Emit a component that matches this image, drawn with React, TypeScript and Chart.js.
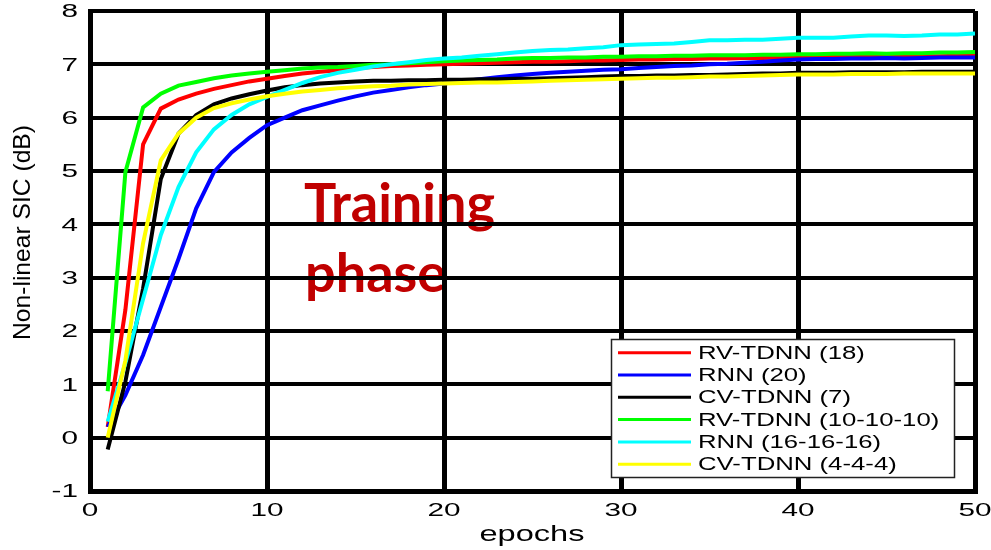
import React, { useEffect, useRef } from "react";
import { Chart, registerables } from "chart.js";
Chart.register(...registerables);

const epochs = [1,2,3,4,5,6,7,8,9,10,11,12,13,14,15,16,17,18,19,20,21,22,23,24,25,26,27,28,29,30,31,32,33,34,35,36,37,38,39,40,41,42,43,44,45,46,47,48,49,50];

const rvTdnn18 = [0.2,2.4,5.5,6.17,6.34,6.45,6.54,6.61,6.68,6.73,6.78,6.83,6.86,6.89,6.93,6.95,6.97,6.98,6.99,7.0,7.01,7.02,7.03,7.04,7.05,7.05,7.06,7.07,7.07,7.08,7.09,7.09,7.1,7.1,7.11,7.11,7.12,7.12,7.13,7.13,7.13,7.14,7.14,7.14,7.15,7.15,7.15,7.15,7.16,7.16];
const rnn20 = [0.2,0.8,1.55,2.45,3.35,4.3,4.98,5.35,5.62,5.86,6.0,6.14,6.23,6.32,6.4,6.47,6.52,6.57,6.61,6.64,6.68,6.72,6.76,6.79,6.82,6.84,6.86,6.88,6.9,6.91,6.93,6.95,6.97,6.98,7.0,7.01,7.03,7.05,7.07,7.09,7.1,7.1,7.11,7.11,7.12,7.11,7.12,7.13,7.13,7.13];
const cvTdnn7 = [-0.22,1.05,2.8,4.85,5.7,6.05,6.25,6.36,6.44,6.51,6.57,6.61,6.64,6.66,6.68,6.69,6.69,6.7,6.7,6.71,6.71,6.72,6.72,6.73,6.73,6.74,6.75,6.76,6.77,6.78,6.78,6.79,6.79,6.8,6.8,6.81,6.82,6.83,6.83,6.84,6.84,6.84,6.85,6.85,6.85,6.85,6.86,6.86,6.86,6.86];
const rvTdnn101010 = [0.87,4.98,6.19,6.45,6.6,6.67,6.74,6.79,6.83,6.86,6.89,6.92,6.94,6.95,6.97,6.99,7.0,7.02,7.04,7.06,7.07,7.08,7.09,7.11,7.12,7.12,7.13,7.13,7.14,7.14,7.15,7.15,7.16,7.16,7.17,7.17,7.17,7.18,7.18,7.19,7.19,7.2,7.2,7.21,7.2,7.21,7.21,7.22,7.22,7.23];
const rnn161616 = [0.3,1.4,2.6,3.8,4.7,5.35,5.78,6.05,6.25,6.39,6.52,6.65,6.76,6.84,6.9,6.96,7.0,7.04,7.08,7.11,7.13,7.16,7.19,7.22,7.25,7.27,7.28,7.3,7.32,7.36,7.37,7.38,7.39,7.42,7.45,7.45,7.46,7.46,7.48,7.5,7.5,7.5,7.52,7.54,7.54,7.53,7.54,7.56,7.56,7.58];
const cvTdnn444 = [0.0,1.45,3.65,5.2,5.7,6.0,6.18,6.27,6.34,6.4,6.45,6.49,6.52,6.55,6.57,6.59,6.6,6.62,6.63,6.64,6.65,6.66,6.66,6.67,6.68,6.69,6.7,6.71,6.72,6.73,6.74,6.75,6.75,6.76,6.77,6.77,6.78,6.79,6.8,6.81,6.81,6.81,6.82,6.82,6.82,6.83,6.83,6.83,6.83,6.83];

const seriesNames = ["RV-TDNN (18)", "RNN (20)", "CV-TDNN (7)", "RV-TDNN (10-10-10)", "RNN (16-16-16)", "CV-TDNN (4-4-4)"];
const seriesColors = ["#ff0000", "#0000ff", "#000000", "#00ff00", "#00ffff", "#ffff00"];
const seriesValues = [rvTdnn18, rnn20, cvTdnn7, rvTdnn101010, rnn161616, cvTdnn444];

const xTickValues = [0, 10, 20, 30, 40, 50];
const yTickValues = [-1, 0, 1, 2, 3, 4, 5, 6, 7, 8];
const xTitle = "epochs";
const yTitle = "Non-linear SIC (dB)";
const annotationLines = ["Training", "phase"];

function drawStretched(ctx: CanvasRenderingContext2D, text: string, x: number, y: number, font: string, sx: number, align: string, baseline: CanvasTextBaseline, color: string) {
  ctx.save();
  ctx.font = font;
  ctx.fillStyle = color;
  ctx.textBaseline = baseline;
  ctx.textAlign = "left";
  const w = ctx.measureText(text).width * sx;
  const left = align === "center" ? x - w / 2 : align === "right" ? x - w : x;
  ctx.translate(left, y);
  ctx.scale(sx, 1);
  ctx.fillText(text, 0, 0);
  ctx.restore();
}

const decorPlugin = {
  id: "decor",
  beforeDraw(chart: any) {
    const ctx = chart.ctx as CanvasRenderingContext2D;
    ctx.save();
    ctx.font = "bold 54px Lato";
    ctx.fillStyle = "#c00000";
    ctx.textBaseline = "alphabetic";
    ctx.textAlign = "left";
    ctx.fillText(annotationLines[0], 304, 222);
    ctx.fillText(annotationLines[1], 305, 292);
    ctx.restore();
  },
  afterDraw(chart: any) {
    const ctx = chart.ctx as CanvasRenderingContext2D;
    const xs = chart.scales.x;
    const ys = chart.scales.y;
    const tickFont = "18px 'Liberation Sans', Arial, sans-serif";
    for (const v of xTickValues) {
      drawStretched(ctx, String(v), xs.getPixelForValue(v), 511, tickFont, 1.65, "center", "middle", "#000");
    }
    for (const v of yTickValues) {
      drawStretched(ctx, String(v), 78, ys.getPixelForValue(v) + 1.5, tickFont, 1.65, "right", "middle", "#000");
    }
    drawStretched(ctx, xTitle, 532, 541, "22px 'Liberation Sans', Arial, sans-serif", 1.48, "center", "alphabetic", "#000");
    // y title
    ctx.save();
    ctx.font = "24px 'Liberation Sans', Arial, sans-serif";
    ctx.fillStyle = "#000";
    ctx.textBaseline = "middle";
    ctx.textAlign = "left";
    const tw = ctx.measureText(yTitle).width;
    const sy = 215 / tw;
    ctx.translate(23, 340);
    ctx.rotate(-Math.PI / 2);
    ctx.scale(sy, 1);
    ctx.fillText(yTitle, 0, 0);
    ctx.restore();
    // legend
    const bx = 611, by = 339, bw = 343, bh = 138;
    ctx.save();
    ctx.fillStyle = "#ffffff";
    ctx.fillRect(bx, by, bw, bh);
    ctx.strokeStyle = "#222";
    ctx.lineWidth = 1.5;
    ctx.strokeRect(bx + 0.5, by + 0.5, bw, bh);
    seriesNames.forEach((name, i) => {
      const ry = 352.7 + i * 22.3;
      ctx.strokeStyle = seriesColors[i];
      ctx.lineWidth = 3;
      ctx.beginPath();
      ctx.moveTo(618, ry);
      ctx.lineTo(691, ry);
      ctx.stroke();
      drawStretched(ctx, name, 698, ry + 1, "18px 'Liberation Sans', Arial, sans-serif", 1.43, "left", "middle", "#000");
    });
    ctx.restore();
  },
};

export default function App() {
  const ref = useRef<HTMLCanvasElement>(null);
  useEffect(() => {
    if (!ref.current) return;
    const datasets = seriesValues.map((vals, i) => ({
      label: seriesNames[i],
      data: vals.map((v, j) => ({ x: epochs[j], y: v })),
      borderColor: seriesColors[i],
      backgroundColor: seriesColors[i],
      borderWidth: 4,
      pointRadius: 0,
      tension: 0,
      fill: false,
      order: seriesNames.length - i,
    }));
    const chart = new Chart(ref.current, {
      type: "line",
      data: { datasets },
      options: {
        animation: false,
        responsive: false,
        layout: { padding: { left: 90, right: 16, top: 11, bottom: 59 } },
        plugins: { legend: { display: false }, tooltip: { enabled: false } },
        scales: {
          x: {
            type: "linear",
            min: 0,
            max: 50,
            ticks: { display: false, stepSize: 10 },
            grid: { color: "#000", lineWidth: 5, drawTicks: false },
            border: { display: true, color: "#000", width: 5 },
          },
          y: {
            type: "linear",
            min: -1,
            max: 8,
            ticks: { display: false, stepSize: 1 },
            grid: { color: "#000", lineWidth: 4, drawTicks: false },
            border: { display: true, color: "#000", width: 5 },
          },
        },
      },
      plugins: [decorPlugin],
    });
    return () => chart.destroy();
  }, []);
  return (
    <div style={{ position: "absolute", left: 0, top: 0, width: 991, height: 550, background: "#fff" }}>
      <canvas ref={ref} width={991} height={550} style={{ display: "block" }} />
    </div>
  );
}
